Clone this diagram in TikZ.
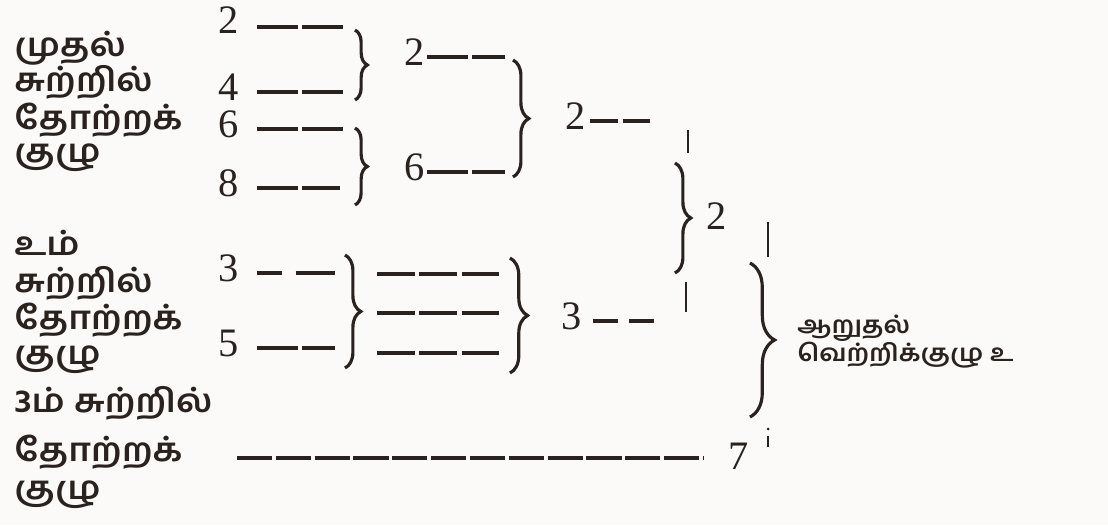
\documentclass[tikz,border=0pt]{standalone}
\usepackage{fontspec}
\setmainfont{Liberation Serif}
\newfontfamily\tamilfont[Script=Tamil, FakeStretch=1.12]{Hind Madurai}
\usetikzlibrary{decorations.pathreplacing}

\definecolor{ink}{RGB}{42,34,30}
\definecolor{paper}{RGB}{251,250,248}

\tikzset{
  lbl/.style={anchor=west, inner sep=0pt, text=ink, font=\tamilfont\bfseries\fontsize{18.5}{20}\selectfont},
  rlbl/.style={anchor=west, inner sep=0pt, text=ink, font=\tamilfont\bfseries\fontsize{13.5}{15}\selectfont},
  num/.style={inner sep=0pt, text=ink, font=\fontsize{23}{25}\selectfont},
  dashline/.style={draw=ink, line width=1.9pt, dash pattern=on 23.2pt off 2.4pt},
  brc/.style={draw=ink, decorate, decoration={brace, amplitude=#1}, line width=1.8pt},
  brc/.default=7pt,
  tick/.style={draw=ink, line width=1.4pt}
}

\begin{document}
\begin{tikzpicture}[x=0.02cm, y=-0.02cm]
\fill[paper] (0,0) rectangle (1108,525);
\useasboundingbox (0,0) rectangle (1108,525);

% Left labels
\node[lbl] (t1) at (14,48) {முதல்};
\node[lbl] (t2) at (14,82) {சுற்றில்};
\node[lbl] (t3) at (14,120) {தோற்றக்};
\node[lbl] (t4) at (14,158) {குழு};
\node[lbl] (t5) at (14,243) {௨ம்};
\node[lbl] (t6) at (14,283) {சுற்றில்};
\node[lbl] (t7) at (14,320) {தோற்றக்};
\node[lbl] (t8) at (14,360) {குழு};
\node[lbl] (t9) at (14,403) {3ம் சுற்றில்};
\node[lbl] (t10) at (14,452) {தோற்றக்};
\node[lbl] (t11) at (14,495) {குழு};

% First column
\node[num] (a1) at (229,20) {2};
\node[num] (a2) at (229,87) {4};
\node[num] (a3) at (229,124) {6};
\node[num] (a4) at (229,183) {8};
\node[num] (a5) at (229,268) {3};
\node[num] (a6) at (229,343) {5};

\coordinate (a1e) at (343,27);
\coordinate (a2e) at (343,92);
\coordinate (a3e) at (343,129);
\coordinate (a4e) at (340,188);
\coordinate (a5e) at (335,273);
\coordinate (a6e) at (335,348);

\draw[dashline, shorten <=10pt] (a1.east |- a1e) -- (a1e);
\draw[dashline, shorten <=10pt] (a2.east |- a2e) -- (a2e);
\draw[dashline, shorten <=10pt] (a3.east |- a3e) -- (a3e);
\draw[dashline, shorten <=10pt] (a4.east |- a4e) -- (a4e);
\draw[dashline, shorten <=10pt, dash pattern=on 14pt off 8pt on 24pt off 2pt] (a5.east |- a5e) -- (a5e);
\draw[dashline, shorten <=10pt] (a6.east |- a6e) -- (a6e);

\coordinate (b1t) at (355,30);
\coordinate (b1b) at (355,100);
\coordinate (b2t) at (355,128);
\coordinate (b2b) at (355,205);
\draw[brc] (b1t) -- (b1b);
\draw[brc] (b2t) -- (b2b);

% Second column
\node[num] (c1) at (415,52) {2};
\node[num] (c2) at (415,167) {6};
\coordinate (c1e) at (505,57);
\coordinate (c2e) at (505,172);
\draw[dashline, shorten <=1pt] (c1.east |- c1e) -- (c1e);
\draw[dashline, shorten <=1pt] (c2.east |- c2e) -- (c2e);

\coordinate (b5t) at (345,255);
\coordinate (b5b) at (345,368);
\draw[brc=9pt] (b5t) -- (b5b);

\coordinate (m1s) at (377,274);
\coordinate (m1e) at (500,274);
\coordinate (m2s) at (377,313);
\coordinate (m2e) at (500,313);
\coordinate (m3s) at (377,353);
\coordinate (m3e) at (500,353);
\draw[dashline, dash pattern=on 21.5pt off 2.6pt] (m1s) -- (m1e);
\draw[dashline, dash pattern=on 21.5pt off 2.6pt] (m2s) -- (m2e);
\draw[dashline, dash pattern=on 21.5pt off 2.6pt] (m3s) -- (m3e);

\coordinate (b3t) at (513,60);
\coordinate (b3b) at (513,177);
\coordinate (b6t) at (510,258);
\coordinate (b6b) at (510,373);
\draw[brc=9pt] (b3t) -- (b3b);
\draw[brc=10pt] (b6t) -- (b6b);

% Third column
\node[num] (d1) at (576,116) {2};
\node[num] (d2) at (572,316) {3};
\coordinate (d1e) at (650,121);
\coordinate (d2e) at (655,321);
\draw[dashline, shorten <=2pt, dash pattern=on 16pt off 3pt] (d1.east |- d1e) -- (d1e);
\draw[dashline, shorten <=6pt, dash pattern=on 14pt off 6.5pt] (d2.east |- d2e) -- (d2e);

\coordinate (k1t) at (688,130);
\coordinate (k1b) at (688,153);
\coordinate (k2t) at (686,282);
\coordinate (k2b) at (686,312);
\draw[tick] (k1t) -- (k1b);
\draw[tick] (k2t) -- (k2b);

\coordinate (b4t) at (675,163);
\coordinate (b4b) at (675,273);
\draw[brc=9pt] (b4t) -- (b4b);
\node[num] (e1) at (717,216) {2};

% Long line and final brace
\coordinate (l7s) at (237,458);
\node[num] (n7) at (739,456) {7};
\draw[dashline, shorten >=14pt, dash pattern=on 20pt off 2.1pt] (l7s) -- (n7.west |- l7s);

\coordinate (k3t) at (768,222);
\coordinate (k3b) at (768,257);
\coordinate (k4t) at (768,436);
\coordinate (k4b) at (768,447);
\draw[tick] (k3t) -- (k3b);
\draw[tick] (k4t) -- (k4b);
\fill[ink] (768,429) circle (1.5);

\coordinate (b7t) at (750,263);
\coordinate (b7b) at (750,417);
\draw[brc=14pt] (b7t) -- (b7b);

\node[rlbl] (r1) at (797,328) {ஆறுதல்};
\node[rlbl] (r2) at (797,355) {வெற்றிக்குழு ௨};

\end{tikzpicture}
\end{document}
